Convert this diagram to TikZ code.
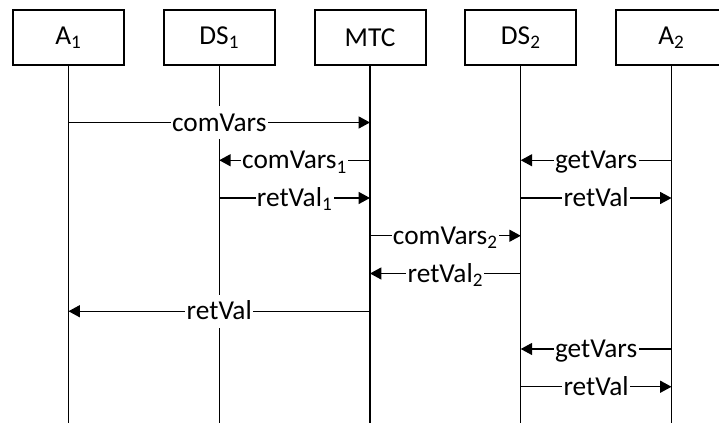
\documentclass[tikz,border=0pt]{standalone}
\usepackage{fontspec}
\setmainfont{Carlito}
\usetikzlibrary{arrows.meta}

\begin{document}
\begin{tikzpicture}[x=0.75pt, y=-0.75pt,
  actor/.style={draw, line width=1.5pt, minimum width=83.25pt, minimum height=41.25pt,
    font=\fontsize{20.5}{24}\selectfont},
  life/.style={line width=0.9pt},
  msg/.style={line width=0.9pt, -{Triangle[length=8.5pt, width=9pt]}},
  lbl/.style={fill=white, inner xsep=1pt, inner ysep=6pt, text height=13pt,
    text depth=0pt, font=\fontsize{20.5}{24}\selectfont}]
\useasboundingbox (0,0) rectangle (719,423);

\node[actor] (a1) at (68.5,37.5) {A\textsubscript{1}};
\node[actor] (ds1) at (219.25,37.5) {DS\textsubscript{1}};
\node[actor] (mtc) at (370,37.5) {MTC};
\node[actor] (ds2) at (520.75,37.5) {DS\textsubscript{2}};
\node[actor] (a2) at (671.5,37.5) {A\textsubscript{2}};

% lifelines
\coordinate (end) at (0,423);
\foreach \n in {a1,ds1,mtc,ds2,a2}
  \draw[life] (\n.south) -- (\n |- end);

% message rows
\foreach \i in {1,...,8}
  \coordinate (r\i) at (0,{122.5+37.75*(\i-1)});

\draw[msg] (a1 |- r1) -- node[lbl] {comVars} (mtc |- r1);
\draw[msg] (mtc |- r2) -- node[lbl] {comVars\textsubscript{1}} (ds1 |- r2);
\draw[msg] (a2 |- r2) -- node[lbl] {getVars} (ds2 |- r2);
\draw[msg] (ds1 |- r3) -- node[lbl] {retVal\textsubscript{1}} (mtc |- r3);
\draw[msg] (ds2 |- r3) -- node[lbl] {retVal} (a2 |- r3);
\draw[msg] (mtc |- r4) -- node[lbl] {comVars\textsubscript{2}} (ds2 |- r4);
\draw[msg] (ds2 |- r5) -- node[lbl] {retVal\textsubscript{2}} (mtc |- r5);
\draw[msg] (mtc |- r6) -- node[lbl] {retVal} (a1 |- r6);
\draw[msg] (a2 |- r7) -- node[lbl] {getVars} (ds2 |- r7);
\draw[msg] (ds2 |- r8) -- node[lbl] {retVal} (a2 |- r8);
\end{tikzpicture}
\end{document}
